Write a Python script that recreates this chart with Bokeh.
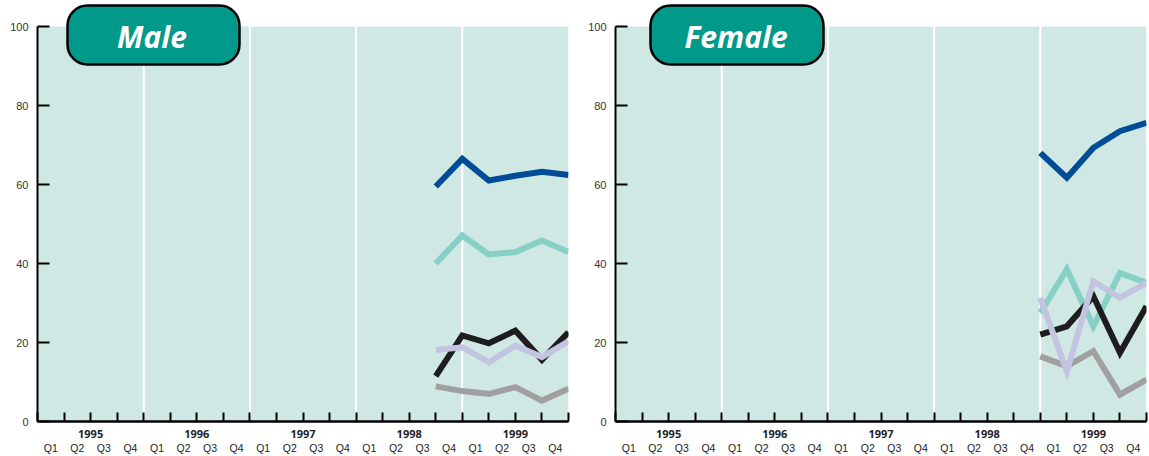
from bokeh.plotting import figure
from bokeh.models import Range1d, LinearAxis, FixedTicker, Span, BoxAnnotation, Label
from bokeh.layouts import row
from bokeh.embed import file_html
from bokeh.resources import INLINE

# ---------------- data ----------------
years = [1995, 1996, 1997, 1998, 1999]
quarter_labels = ["Q1", "Q2", "Q3", "Q4"]
y_ticks = [0, 20, 40, 60, 80, 100]

male_periods = ["1998 Q3", "1998 Q4", "1999 Q1", "1999 Q2", "1999 Q3", "1999 Q4"]
male_blue = [59.5, 66.5, 61.0, 62.2, 63.2, 62.4]
male_teal = [40.0, 47.1, 42.3, 42.9, 45.8, 42.9]
male_black = [11.5, 21.8, 19.8, 23.0, 15.6, 22.6]
male_lavender = [18.1, 18.8, 15.0, 19.2, 16.3, 20.3]
male_gray = [8.9, 7.7, 7.0, 8.7, 5.3, 8.3]

female_periods = ["1998 Q4", "1999 Q1", "1999 Q2", "1999 Q3", "1999 Q4"]
female_blue = [68.0, 61.7, 69.3, 73.5, 75.6]
female_teal = [27.5, 38.5, 24.1, 37.6, 35.1]
female_black = [22.0, 24.1, 31.7, 17.4, 29.2]
female_lavender = [31.3, 12.7, 35.5, 31.3, 35.1]
female_gray = [16.5, 14.0, 17.8, 6.8, 10.6]

# ---------------- style ----------------
BG = "#cfe8e4"
BOX_TEAL = "#00998a"
COLORS = {
    "gray": "#a0a0a0",
    "teal": "#86d0c5",
    "blue": "#004c97",
    "black": "#1d1d1d",
    "lavender": "#c2c4e2",
}
N_Q = len(years) * 4
FRAME_H = 421
TOP_PAD = 26  # px of white above the 100 line
Y_END = 100 + TOP_PAD * 100 / (FRAME_H - TOP_PAD)


def period_pos(p):
    y, q = p.split()
    return (int(y) - years[0]) * 4 + int(q[1])


def make_panel(title, periods, series, frame_w, border_left, border_right, box_px, label_px):
    p = figure(frame_width=frame_w, frame_height=FRAME_H,
               x_range=Range1d(0, N_Q), y_range=Range1d(0, Y_END),
               x_axis_location=None, y_axis_location="left",
               toolbar_location=None, output_backend="svg",
               min_border_left=border_left, min_border_right=border_right,
               min_border_top=0, min_border_bottom=0,
               background_fill_color="white", border_fill_color="white")
    p.outline_line_color = None
    p.grid.visible = False

    sx = frame_w / N_Q
    sy = FRAME_H / Y_END

    # teal plotting area from 0 to 100
    p.add_layout(BoxAnnotation(bottom=0, top=100, fill_color=BG, fill_alpha=1,
                               line_color=None, level="underlay"))
    for yb in range(1, len(years)):
        p.add_layout(Span(location=yb * 4, dimension="height", line_color="white",
                          line_width=2, level="underlay"))

    # y axis
    ya = p.yaxis[0]
    ya.ticker = FixedTicker(ticks=y_ticks)
    ya.bounds = (0, 100)
    ya.major_tick_in = 12
    ya.major_tick_out = 0
    ya.major_tick_line_width = 2
    ya.minor_tick_line_color = None
    ya.axis_line_width = 2
    ya.axis_line_color = "black"
    ya.major_label_standoff = 9
    ya.major_label_text_font = "Liberation Sans"
    ya.major_label_text_font_size = "11px"
    ya.major_label_text_color = "#333333"
    ya.major_label_text_baseline = "top"

    # x axis: quarter ticks + year labels
    year_centers = [i * 4 + 2 for i in range(len(years))]
    xa = LinearAxis(ticker=FixedTicker(ticks=year_centers, minor_ticks=list(range(N_Q + 1))),
                    major_label_overrides={c: str(y) for c, y in zip(year_centers, years)},
                    major_tick_in=0, major_tick_out=0,
                    minor_tick_in=9, minor_tick_out=0, minor_tick_line_width=2,
                    minor_tick_line_color="black",
                    axis_line_width=2.5, axis_line_color="black",
                    major_label_standoff=8,
                    major_label_text_font="Open Sans",
                    major_label_text_font_style="bold",
                    major_label_text_font_size="11px",
                    major_label_text_color="#222222")
    p.add_layout(xa, "below")
    q_pos = [i + 0.5 for i in range(N_Q)]
    xq = LinearAxis(ticker=FixedTicker(ticks=q_pos),
                    major_label_overrides={q: quarter_labels[i % 4] for i, q in enumerate(q_pos)},
                    axis_line_color=None, major_tick_line_color=None,
                    minor_tick_line_color=None, major_label_standoff=-5,
                    major_label_text_font="Liberation Sans",
                    major_label_text_font_size="10.5px",
                    major_label_text_color="#222222")
    p.add_layout(xq, "below")

    xs = [period_pos(pr) for pr in periods]
    for name in ["gray", "teal", "blue", "black", "lavender"]:
        p.line(xs, series[name], line_color=COLORS[name], line_width=6,
               line_join="miter", line_cap="butt")

    # title box (pixel offsets from frame's top-left corner)
    l, r, t, b = box_px
    p.add_layout(BoxAnnotation(left=l / sx, right=r / sx,
                               top=Y_END - t / sy, bottom=Y_END - b / sy,
                               fill_color=BOX_TEAL, fill_alpha=1,
                               line_color="black", line_alpha=1, line_width=2.5,
                               border_radius=20, level="overlay"))
    lx, ly = label_px
    p.add_layout(Label(x=lx / sx, y=Y_END - ly / sy, text=title,
                       text_align="center", text_baseline="middle",
                       text_color="white", text_font="Open Sans",
                       text_font_style="bold italic", text_font_size="30px",
                       level="overlay"))
    return p


male_series = {"blue": male_blue, "teal": male_teal, "black": male_black,
               "lavender": male_lavender, "gray": male_gray}
female_series = {"blue": female_blue, "teal": female_teal, "black": female_black,
                 "lavender": female_lavender, "gray": female_gray}

p1 = make_panel("Male", male_periods, male_series, 531, 37, 12,
                (30, 202, 5, 64), (114.5, 36))
p2 = make_panel("Female", female_periods, female_series, 531, 35, 2,
                (35, 208, 5, 64), (120.5, 36))

layout = row(p1, p2)
open("out.html", "w").write(file_html(layout, INLINE))
